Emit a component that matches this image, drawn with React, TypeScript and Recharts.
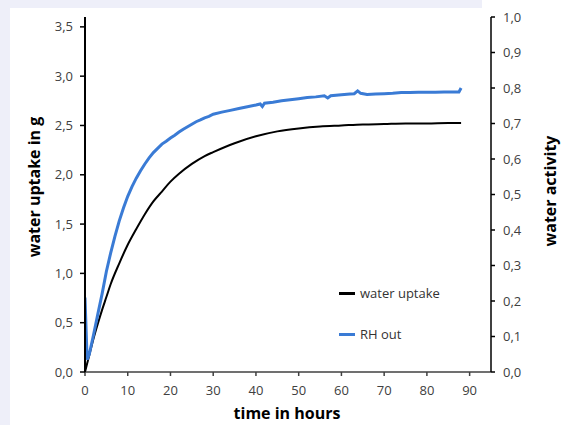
import React from 'react';
import { LineChart, Line, XAxis, YAxis, Label } from 'recharts';

const uptakeHours = [0, 1, 2, 3, 4, 5, 6, 8, 10, 12, 14, 16, 18, 20, 22, 25, 28, 30, 35, 40, 45, 50, 55, 60, 65, 70, 75, 80, 85, 88];
const uptakeGrams = [0, 0.17, 0.34, 0.49, 0.63, 0.76, 0.89, 1.1, 1.29, 1.45, 1.6, 1.73, 1.83, 1.93, 2.01, 2.11, 2.19, 2.23, 2.32, 2.39, 2.44, 2.47, 2.49, 2.5, 2.51, 2.515, 2.52, 2.52, 2.525, 2.525];

const rhHours = [0, 0.5, 1, 2, 3, 4, 5, 6, 7, 8, 9, 10, 11, 12, 13, 14, 15, 16, 17, 18, 19, 20, 21, 22, 23, 24, 25, 26, 27, 28, 29, 30, 32, 34, 36, 38, 40, 41, 41.5, 42, 44, 46, 48, 50, 52, 54, 56, 56.8, 57.5, 60, 62, 63, 63.8, 64.5, 66, 68, 70, 72, 74, 76, 78, 80, 82, 84, 86, 87.5, 88];
const rhActivity = [0.21, 0.035, 0.05, 0.105, 0.163, 0.22, 0.283, 0.335, 0.382, 0.425, 0.462, 0.495, 0.522, 0.546, 0.567, 0.586, 0.603, 0.618, 0.63, 0.642, 0.65, 0.659, 0.667, 0.676, 0.684, 0.691, 0.698, 0.705, 0.71, 0.716, 0.72, 0.726, 0.732, 0.737, 0.742, 0.747, 0.752, 0.755, 0.748, 0.757, 0.76, 0.764, 0.767, 0.77, 0.773, 0.775, 0.778, 0.772, 0.778, 0.781, 0.783, 0.784, 0.792, 0.785, 0.782, 0.783, 0.784, 0.785, 0.787, 0.787, 0.788, 0.788, 0.788, 0.789, 0.789, 0.789, 0.8];

const xTicks = [0, 10, 20, 30, 40, 50, 60, 70, 80, 90];
const leftTicks = [0, 0.5, 1, 1.5, 2, 2.5, 3, 3.5];
const rightTicks = [0, 0.1, 0.2, 0.3, 0.4, 0.5, 0.6, 0.7, 0.8, 0.9, 1.0];

const uptakeData = uptakeHours.map((t, i) => ({ t, v: uptakeGrams[i] }));
const rhData = rhHours.map((t, i) => ({ t, v: rhActivity[i] }));

const FONT = '"Open Sans", sans-serif';
const TEXT = '#404040';
const BLUE = '#3a7bd5';

const fmt = (v: number) => v.toFixed(1).replace('.', ',');

const legendItems = [
  { name: 'water uptake', color: '#000000' },
  { name: 'RH out', color: BLUE },
];

export default function App() {
  return (
    <div style={{ position: 'absolute', left: 0, top: 0, width: 571, height: 425, background: '#eeeff9', overflow: 'hidden' }}>
      <div style={{ position: 'absolute', left: 10, top: 8, right: 0, bottom: 0, background: '#ffffff' }} />
      <div style={{ position: 'absolute', left: 482, top: 0, right: 0, height: 10, background: '#ffffff' }} />
      <div style={{ position: 'absolute', left: 0, top: 0 }}>
        <LineChart width={571} height={425} margin={{ top: 17, right: 0, bottom: 0, left: 0 }}>
          <XAxis
            type="number"
            dataKey="t"
            domain={[0, 95]}
            ticks={xTicks}
            allowDataOverflow
            height={53}
            tickSize={4}
            tickMargin={10}
            stroke="#404040"
            strokeWidth={1.5}
            tick={{ fill: TEXT, fontSize: 13, fontFamily: FONT }}
            tickLine={{ stroke: '#404040', strokeWidth: 1.5 }}
          >
            <Label
              content={() => (
                <text x={287} y={419} textAnchor="middle" fontFamily={FONT} fontWeight="bold" fontSize={16} fill="#000">
                  time in hours
                </text>
              )}
            />
          </XAxis>
          <YAxis
            yAxisId="left"
            type="number"
            domain={[0, 3.6]}
            ticks={leftTicks}
            width={85}
            tickSize={5}
            tickMargin={7}
            tickFormatter={fmt}
            stroke="#000"
            strokeWidth={2}
            tick={{ fill: TEXT, fontSize: 13, fontFamily: FONT }}
            tickLine={{ stroke: '#000', strokeWidth: 1.5 }}
          >
            <Label
              content={() => (
                <text x={40} y={187} transform="rotate(-90 40 187)" textAnchor="middle" fontFamily={FONT} fontWeight="bold" fontSize={16} fill="#000">
                  water uptake in g
                </text>
              )}
            />
          </YAxis>
          <YAxis
            yAxisId="right"
            orientation="right"
            type="number"
            domain={[0, 1]}
            ticks={rightTicks}
            width={80}
            tickSize={4}
            tickMargin={8}
            tickFormatter={fmt}
            stroke="#000"
            strokeWidth={1.5}
            tick={{ fill: TEXT, fontSize: 13, fontFamily: FONT }}
            tickLine={{ stroke: '#000', strokeWidth: 1.5 }}
          >
            <Label
              content={() => (
                <text x={556} y={191} transform="rotate(-90 556 191)" textAnchor="middle" fontFamily={FONT} fontWeight="bold" fontSize={16} fill="#000">
                  water activity
                </text>
              )}
            />
          </YAxis>
          <Line
            yAxisId="left"
            data={uptakeData}
            dataKey="v"
            name="water uptake"
            type="monotone"
            stroke="#000"
            strokeWidth={2}
            dot={false}
            activeDot={false}
            isAnimationActive={false}
          />
          <Line
            yAxisId="right"
            data={rhData}
            dataKey="v"
            name="RH out"
            type="linear"
            stroke={BLUE}
            strokeWidth={3}
            dot={false}
            activeDot={false}
            isAnimationActive={false}
          />
        </LineChart>
      </div>
      <div style={{ position: 'absolute', left: 339, top: 283, fontFamily: FONT, fontSize: 13, color: '#333' }}>
        {legendItems.map((it, i) => (
          <div key={it.name} style={{ display: 'flex', alignItems: 'center', height: 20, marginBottom: i === 0 ? 21 : 0 }}>
            <div style={{ width: 16, height: 3, background: it.color, marginRight: 5 }} />
            <span>{it.name}</span>
          </div>
        ))}
      </div>
    </div>
  );
}
